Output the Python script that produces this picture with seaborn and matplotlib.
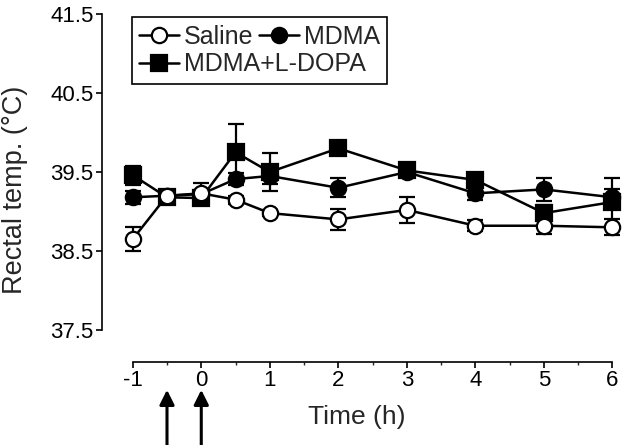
import numpy as np
import matplotlib
matplotlib.use("Agg")
import matplotlib.pyplot as plt
import seaborn as sns
import pandas as pd
from matplotlib.ticker import MultipleLocator

# time points (h) and rectal temperature (mean, sem)
time = [-1, -0.5, 0, 0.5, 1, 2, 3, 4, 5, 6]

saline = [38.65, 39.20, 39.23, 39.15, 38.98, 38.90, 39.02, 38.82, 38.82, 38.80]
saline_sem = [0.15, 0.05, 0.13, 0.05, 0.04, 0.13, 0.17, 0.07, 0.10, 0.10]

mdma = [39.18, 39.20, 39.22, 39.41, 39.45, 39.30, 39.50, 39.23, 39.28, 39.18]
mdma_sem = [0.08, 0.04, 0.05, 0.08, 0.10, 0.12, 0.06, 0.08, 0.15, 0.10]

ldopa = [39.46, 39.18, 39.17, 39.75, 39.50, 39.80, 39.52, 39.40, 38.98, 39.12]
ldopa_sem = [0.12, 0.06, 0.06, 0.36, 0.24, 0.04, 0.08, 0.06, 0.10, 0.30]

injections = [-0.5, 0]

sns.set_style("ticks")
plt.rcParams["font.family"] = ["Liberation Sans", "DejaVu Sans"]
plt.rcParams["axes.unicode_minus"] = False

fig = plt.figure(figsize=(6.4, 4.45), dpi=100)
ax = fig.add_axes([0.159, 0.1865, 0.814, 0.782])

groups = [
    ("MDMA+L-DOPA", ldopa, ldopa_sem, "s", "black", 11.5),
    ("MDMA", mdma, mdma_sem, "o", "black", 11),
    ("Saline", saline, saline_sem, "o", "white", 11),
]

handles = {}
for name, vals, sem, mk, face, ms in groups:
    df = pd.DataFrame({"time": time, "temp": vals})
    ax.errorbar(time, vals, yerr=sem, fmt="none", ecolor="black",
                elinewidth=1.6, capsize=5.5, capthick=1.6, zorder=2)
    sns.lineplot(data=df, x="time", y="temp", ax=ax, color="black",
                 marker=mk, markersize=ms, markerfacecolor=face,
                 markeredgecolor="black", markeredgewidth=1.6,
                 linewidth=1.8, errorbar=None, zorder=3)
    handles[name] = ax.lines[-1]

leg = ax.legend([handles["Saline"], handles["MDMA+L-DOPA"], handles["MDMA"]],
                ["Saline", "MDMA+L-DOPA", "MDMA"], ncol=2,
                loc="upper left", bbox_to_anchor=(0.0576, 0.991),
                borderaxespad=0, fontsize=18, frameon=True, fancybox=False,
                edgecolor="black", framealpha=1, handlelength=1.6,
                handletextpad=0.2, columnspacing=-4.3, labelspacing=0.15,
                borderpad=0.3)
leg.get_frame().set_linewidth(1.2)

ax.set_xlim(-1.452, 6.15)
ax.set_ylim(37.095, 41.5)
ax.set_xticks(range(-1, 7))
ax.xaxis.set_minor_locator(MultipleLocator(0.5))
ax.set_yticks([37.5, 38.5, 39.5, 40.5, 41.5])
ax.spines["top"].set_visible(False)
ax.spines["right"].set_visible(False)
ax.spines["left"].set_bounds(37.5, 41.5)
ax.spines["bottom"].set_bounds(-1, 6)
for s in ("left", "bottom"):
    ax.spines[s].set_linewidth(1.2)
    ax.spines[s].set_color("black")
ax.tick_params(axis="both", which="major", direction="out", length=4,
               width=1.2, labelsize=16, colors="black", pad=2)
ax.tick_params(axis="x", which="minor", direction="out", length=2.5, width=1)

ax.set_xlabel("Time (h)", fontsize=19)
ax.set_ylabel("Rectal temp. (°C)", fontsize=19.5)
ax.xaxis.set_label_coords(0.49, -0.123)
ax.yaxis.set_label_coords(-0.141, 0.494)

for t in injections:
    ax.annotate("", xy=(t, -0.072), xycoords=("data", "axes fraction"),
                xytext=(t, -0.26), textcoords=("data", "axes fraction"),
                arrowprops=dict(arrowstyle="-|>", color="black", lw=2.2,
                                mutation_scale=22),
                annotation_clip=False)

fig.savefig("out.png", dpi=100)
